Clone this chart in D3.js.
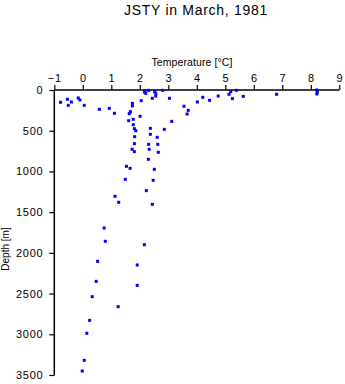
<!DOCTYPE html>
<html><head><meta charset="utf-8">
<script src="https://cdn.jsdelivr.net/npm/d3@7"></script>
<style>
html,body{margin:0;padding:0;background:#fff;}
text{font-family:"Liberation Sans",Arial,Helvetica,sans-serif;fill:#000;}
</style></head>
<body><svg id="c" width="345" height="384"></svg>
<script>
const title = "JSTY in March, 1981";
const xLabel = "Temperature [°C]";
const yLabel = "Depth [m]";
const xTicks = [-1,0,1,2,3,4,5,6,7,8,9];
const yTicks = [0,500,1000,1500,2000,2500,3000,3500];
const temperature = [-0.78,-0.54,-0.51,-0.40,-0.16,-0.10,0.05,0.58,0.93,1.11,
 1.74,1.74,1.67,1.63,1.77,1.61,2.01,2.05,1.77,1.81,1.86,1.82,1.81,1.73,1.81,
 2.37,2.37,2.61,2.86,2.31,2.63,2.33,2.65,2.30,1.53,1.66,2.51,1.49,2.47,2.23,
 1.13,1.26,2.44,0.75,0.79,2.16,0.52,1.91,0.47,1.91,0.33,1.24,0.24,0.14,0.05,-0.02,
 2.16,2.21,2.31,2.52,2.56,2.56,2.80,2.44,3.04,2.18,3.12,3.55,3.70,3.66,4.02,4.21,
 4.45,4.75,5.13,5.19,5.25,5.39,5.63,6.80,8.21,8.23,8.21];
const depth = [151,114,188,147,98,123,188,237,225,286,
 164,196,266,291,360,377,323,131,426,475,500,573,659,728,757,
 471,544,581,483,667,667,728,765,851,937,962,974,1097,1109,1236,
 1305,1379,1404,1695,1858,1900,2104,2149,2350,2399,2538,2661,2829,2988,3320,3451,
 25,41,4,20,41,74,4,102,102,12,385,200,250,295,147,90,
 127,74,53,20,106,4,78,53,0,28,49];

const svg = d3.select("#c");
const L = 54.3, R = 339.3, T = 90, B = 375;
const x = d3.scaleLinear().domain([-1,9]).range([L,R]);
const y = d3.scaleLinear().domain([0,3500]).range([T,B]);

svg.append("text").attr("x",196).attr("y",15).attr("text-anchor","middle")
  .style("font-size","14px").style("letter-spacing","0.7px").text(title);
svg.append("text").attr("x",192).attr("y",66).attr("text-anchor","middle")
  .style("font-size","10.5px").style("letter-spacing","0.1px").text(xLabel);
svg.append("text").attr("transform","translate(9,249) rotate(-90)").attr("text-anchor","middle")
  .style("font-size","10px").text(yLabel);

const xa = svg.append("g").attr("transform",`translate(0,${T})`)
  .call(d3.axisTop(x).tickValues(xTicks).tickSize(5).tickPadding(3).tickFormat(d3.format("d")));
const ya = svg.append("g").attr("transform",`translate(${L},0)`)
  .call(d3.axisLeft(y).tickValues(yTicks).tickSize(5).tickPadding(6).tickFormat(d3.format("d")));
[xa,ya].forEach(a=>{
  a.select(".domain").attr("stroke","#000").attr("stroke-width",1.5);
  a.selectAll(".tick line").attr("stroke","#000").attr("stroke-width",1.2);
  a.selectAll(".tick text").style("font-size","11px").style("letter-spacing","0.7px")
   .style("font-family","'Liberation Sans',Arial,sans-serif");
});
ya.select(".domain").attr("d",`M0,${T}V${B}`);
xa.select(".domain").attr("d",`M${L},0H${R}`);

svg.append("g").selectAll("rect").data(temperature.map((t,i)=>[t,depth[i]])).join("rect")
  .attr("x",d=>x(d[0])-1.5).attr("y",d=>y(d[1])-1.5)
  .attr("width",3).attr("height",3).attr("fill","#0000ff");
</script></body></html>
